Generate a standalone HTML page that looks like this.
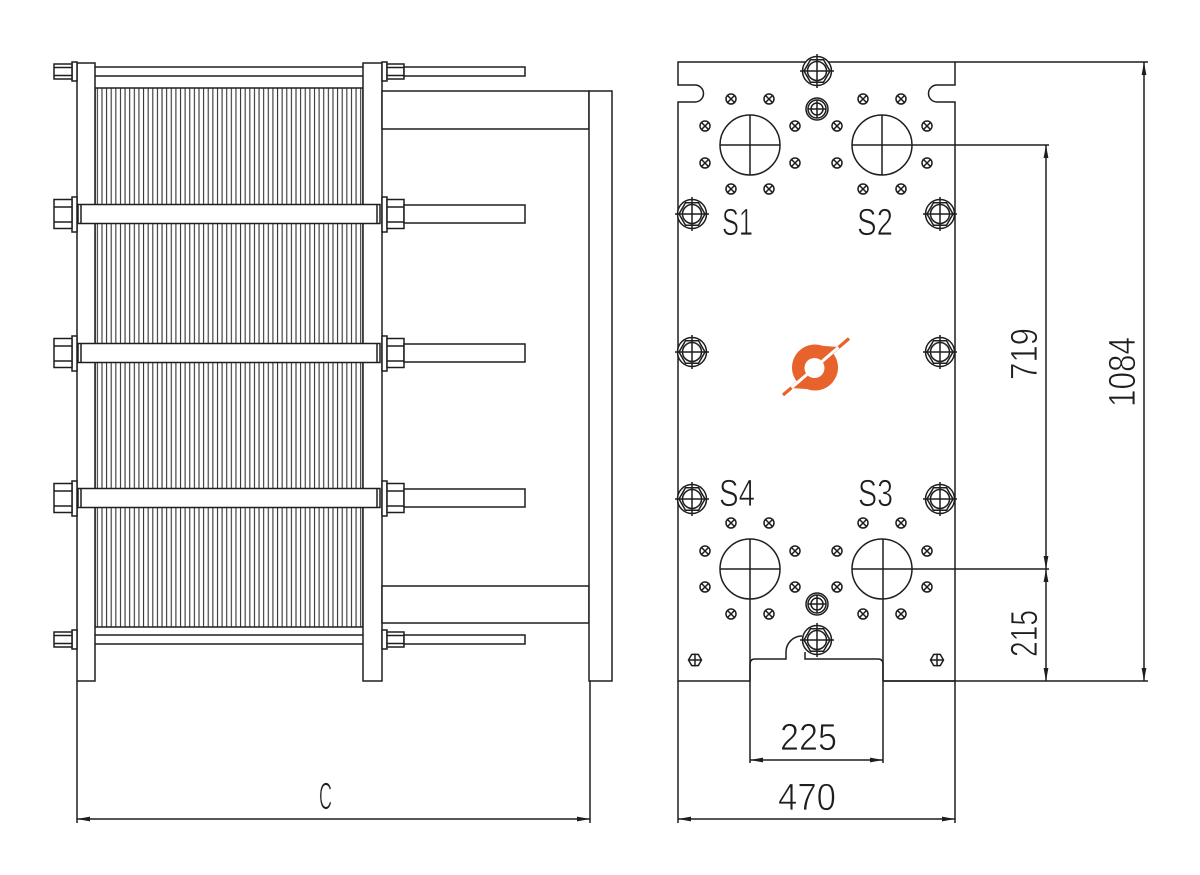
<!DOCTYPE html>
<html>
<head>
<meta charset="utf-8">
<style>
html,body{margin:0;padding:0;background:#fff;}
svg{display:block;}
text{font-family:"Liberation Sans","DejaVu Sans",sans-serif;fill:#1e1e1e;stroke:#fff;stroke-width:0.8;paint-order:normal;}
</style>
</head>
<body>
<svg width="1200" height="875" viewBox="0 0 1200 875" xmlns="http://www.w3.org/2000/svg">
<defs>
  <pattern id="pl" x="95" y="0" width="4.62" height="20" patternUnits="userSpaceOnUse">
    <rect width="4.62" height="20" fill="#fff"/>
    <rect x="1.8" y="0" width="1.1" height="20" fill="#333"/>
  </pattern>
  <g id="bb">
    <circle r="14.5" fill="#fff"/>
    <polygon points="13,0 6.5,11.26 -6.5,11.26 -13,0 -6.5,-11.26 6.5,-11.26" fill="none"/>
    <circle r="9.5" fill="none"/>
    <line x1="-17" y1="0" x2="17" y2="0"/>
    <line x1="0" y1="-17" x2="0" y2="17"/>
  </g>
  <g id="sb">
    <circle r="11" fill="#fff"/>
    <circle r="9" fill="none"/>
    <circle r="6" fill="none"/>
    <line x1="-9" y1="0" x2="9" y2="0"/>
    <line x1="0" y1="-9" x2="0" y2="9"/>
  </g>
  <g id="h">
    <circle r="5" fill="none"/>
    <line x1="-3.5" y1="-3.5" x2="3.5" y2="3.5"/>
    <line x1="-3.5" y1="3.5" x2="3.5" y2="-3.5"/>
  </g>
  <g id="hx">
    <polygon points="6.5,0 3.25,5.63 -3.25,5.63 -6.5,0 -3.25,-5.63 3.25,-5.63" fill="none"/>
    <line x1="-6.5" y1="0" x2="6.5" y2="0"/>
    <line x1="0" y1="-6.5" x2="0" y2="6.5"/>
  </g>
</defs>

<g stroke="#1e1e1e" stroke-width="1.5" fill="none">
  <!-- ============ LEFT VIEW ============ -->
  <rect x="95" y="88" width="268" height="539" fill="url(#pl)" stroke="#1e1e1e"/>
  <line x1="95" y1="67" x2="363" y2="67"/>
  <line x1="95" y1="76" x2="363" y2="76"/>
  <line x1="95" y1="635" x2="363" y2="635"/>
  <line x1="95" y1="644" x2="363" y2="644"/>

  <rect x="77" y="63" width="18" height="618" fill="#fff"/>
  <rect x="363" y="63" width="19" height="618" fill="#fff"/>

  <rect x="382" y="91" width="207" height="38" fill="#fff"/>
  <rect x="382" y="586" width="207" height="37" fill="#fff"/>
  <rect x="589" y="91" width="23" height="590" fill="#fff"/>

  <!-- top guide nuts -->
  <rect x="72" y="62" width="5" height="19" fill="#fff"/>
  <rect x="54" y="64" width="18" height="15" fill="#fff"/>
  <line x1="54" y1="67.5" x2="72" y2="67.5"/>
  <line x1="54" y1="75.5" x2="72" y2="75.5"/>
  <rect x="382" y="62" width="5" height="19" fill="#fff"/>
  <rect x="387" y="64" width="17" height="15" fill="#fff"/>
  <line x1="387" y1="67.5" x2="404" y2="67.5"/>
  <line x1="387" y1="75.5" x2="404" y2="75.5"/>
  <rect x="404" y="67" width="121" height="9" fill="#fff"/>

  <!-- bottom guide nuts -->
  <rect x="72" y="630" width="5" height="19" fill="#fff"/>
  <rect x="54" y="632" width="18" height="15" fill="#fff"/>
  <line x1="54" y1="635.5" x2="72" y2="635.5"/>
  <line x1="54" y1="643.5" x2="72" y2="643.5"/>
  <rect x="382" y="630" width="5" height="19" fill="#fff"/>
  <rect x="387" y="632" width="17" height="15" fill="#fff"/>
  <line x1="387" y1="635.5" x2="404" y2="635.5"/>
  <line x1="387" y1="643.5" x2="404" y2="643.5"/>
  <rect x="404" y="635" width="121" height="9" fill="#fff"/>

  <!-- tie bolts row 1 -->
  <rect x="78" y="204.5" width="302" height="19" fill="#fff"/>
  <line x1="81" y1="204.5" x2="81" y2="223.5"/>
  <line x1="377" y1="204.5" x2="377" y2="223.5"/>
  <rect x="72" y="197" width="5" height="35" fill="#fff"/>
  <rect x="54" y="199.5" width="18" height="29" fill="#fff"/>
  <line x1="54" y1="207" x2="72" y2="207"/>
  <line x1="54" y1="222" x2="72" y2="222"/>
  <rect x="382" y="197" width="5" height="35" fill="#fff"/>
  <rect x="387" y="199.5" width="17" height="29" fill="#fff"/>
  <line x1="387" y1="207" x2="404" y2="207"/>
  <line x1="387" y1="222" x2="404" y2="222"/>
  <rect x="404" y="205" width="121" height="18" fill="#fff"/>

  <!-- tie bolts row 2 -->
  <rect x="78" y="343.5" width="302" height="19" fill="#fff"/>
  <line x1="81" y1="343.5" x2="81" y2="362.5"/>
  <line x1="377" y1="343.5" x2="377" y2="362.5"/>
  <rect x="72" y="336" width="5" height="35" fill="#fff"/>
  <rect x="54" y="338.5" width="18" height="29" fill="#fff"/>
  <line x1="54" y1="346" x2="72" y2="346"/>
  <line x1="54" y1="361" x2="72" y2="361"/>
  <rect x="382" y="336" width="5" height="35" fill="#fff"/>
  <rect x="387" y="338.5" width="17" height="29" fill="#fff"/>
  <line x1="387" y1="346" x2="404" y2="346"/>
  <line x1="387" y1="361" x2="404" y2="361"/>
  <rect x="404" y="344" width="121" height="18" fill="#fff"/>

  <!-- tie bolts row 3 -->
  <rect x="78" y="488.5" width="302" height="19" fill="#fff"/>
  <line x1="81" y1="488.5" x2="81" y2="507.5"/>
  <line x1="377" y1="488.5" x2="377" y2="507.5"/>
  <rect x="72" y="481" width="5" height="35" fill="#fff"/>
  <rect x="54" y="483.5" width="18" height="29" fill="#fff"/>
  <line x1="54" y1="491" x2="72" y2="491"/>
  <line x1="54" y1="506" x2="72" y2="506"/>
  <rect x="382" y="481" width="5" height="35" fill="#fff"/>
  <rect x="387" y="483.5" width="17" height="29" fill="#fff"/>
  <line x1="387" y1="491" x2="404" y2="491"/>
  <line x1="387" y1="506" x2="404" y2="506"/>
  <rect x="404" y="489" width="121" height="18" fill="#fff"/>

  <!-- C dimension -->
  <line x1="77" y1="681" x2="77" y2="823"/>
  <line x1="590" y1="681" x2="590" y2="823"/>
  <line x1="77" y1="819" x2="590" y2="819"/>

  <!-- ============ RIGHT VIEW ============ -->
  <path d="M750,681 L678,681 L678,102 L695,102 A8.5,8.5 0 0 0 695,85 L678,85 L678,62 L955,62 L955,85 L937,85 A8.5,8.5 0 0 0 937,102 L955,102 L955,681 L883,681"/>
  <path d="M750,681 L750,664 Q750,659 755,659 L786,659 L786,652 A16,16 0 0 1 802,636"/>
  <path d="M805,652 L805,659 L878,659 Q883,659 883,664 L883,681"/>

  <line x1="955" y1="62" x2="1148" y2="62"/>
  <line x1="883" y1="681" x2="1148" y2="681"/>
  <line x1="678" y1="681" x2="678" y2="823"/>
  <line x1="955" y1="681" x2="955" y2="823"/>
  <line x1="678" y1="819" x2="955" y2="819"/>

  <!-- ports -->
  <circle cx="750" cy="145" r="30"/>
  <line x1="720" y1="145" x2="780" y2="145"/>
  <line x1="750" y1="115" x2="750" y2="175"/>
  <circle cx="882" cy="145" r="30"/>
  <line x1="852" y1="145" x2="1049" y2="145"/>
  <line x1="882" y1="115" x2="882" y2="175"/>
  <circle cx="750" cy="569" r="30"/>
  <line x1="720" y1="569" x2="780" y2="569"/>
  <line x1="750" y1="539" x2="750" y2="763"/>
  <circle cx="882" cy="569" r="30"/>
  <line x1="852" y1="569" x2="1049" y2="569"/>
  <line x1="883" y1="539" x2="883" y2="763"/>
  <line x1="750" y1="760" x2="883" y2="760"/>

  <line x1="1046" y1="145" x2="1046" y2="681"/>
  <line x1="1144" y1="62" x2="1144" y2="681"/>

  <!-- small holes -->
  <use href="#h" x="731" y="99"/><use href="#h" x="769" y="99"/>
  <use href="#h" x="705" y="126"/><use href="#h" x="795" y="126"/>
  <use href="#h" x="705" y="163"/><use href="#h" x="795" y="163"/>
  <use href="#h" x="731" y="189"/><use href="#h" x="769" y="189"/>
  <use href="#h" x="863" y="99"/><use href="#h" x="901" y="99"/>
  <use href="#h" x="837" y="126"/><use href="#h" x="927" y="126"/>
  <use href="#h" x="837" y="163"/><use href="#h" x="927" y="163"/>
  <use href="#h" x="863" y="189"/><use href="#h" x="901" y="189"/>
  <use href="#h" x="731" y="523"/><use href="#h" x="769" y="523"/>
  <use href="#h" x="705" y="551"/><use href="#h" x="795" y="551"/>
  <use href="#h" x="705" y="587"/><use href="#h" x="795" y="587"/>
  <use href="#h" x="731" y="614"/><use href="#h" x="769" y="614"/>
  <use href="#h" x="863" y="523"/><use href="#h" x="901" y="523"/>
  <use href="#h" x="837" y="551"/><use href="#h" x="927" y="551"/>
  <use href="#h" x="837" y="587"/><use href="#h" x="927" y="587"/>
  <use href="#h" x="863" y="614"/><use href="#h" x="901" y="614"/>

  <!-- bolts -->
  <use href="#bb" x="817" y="71"/>
  <use href="#sb" x="817" y="109"/>
  <use href="#bb" x="692" y="214"/><use href="#bb" x="940" y="214"/>
  <use href="#bb" x="692" y="352"/><use href="#bb" x="940" y="352"/>
  <use href="#bb" x="692" y="499"/><use href="#bb" x="940" y="499"/>
  <use href="#sb" x="817" y="604"/>
  <use href="#bb" x="817" y="640"/>
  <use href="#hx" x="695" y="660"/>
  <use href="#hx" x="937" y="660"/>
</g>

<!-- arrowheads -->
<g fill="#1e1e1e" stroke="none">
  <polygon points="77,819 90,816.6 90,821.4"/>
  <polygon points="590,819 577,816.6 577,821.4"/>
  <polygon points="678,819 691,816.6 691,821.4"/>
  <polygon points="955,819 942,816.6 942,821.4"/>
  <polygon points="750,760 763,757.6 763,762.4"/>
  <polygon points="883,760 870,757.6 870,762.4"/>
  <polygon points="1144,62 1141.6,75 1146.4,75"/>
  <polygon points="1144,681 1141.6,668 1146.4,668"/>
  <polygon points="1046,145 1043.6,158 1048.4,158"/>
  <polygon points="1046,569 1043.6,556 1048.4,556"/>
  <polygon points="1046,569 1043.6,582 1048.4,582"/>
  <polygon points="1046,681 1043.6,668 1048.4,668"/>
</g>

<!-- logo -->
<g>
  <line x1="783" y1="395" x2="849" y2="338.5" stroke="#E8632B" stroke-width="3.2"/>
  <circle cx="815" cy="367.5" r="23" fill="#E8632B"/>
  <polygon points="822.9,345.9 839,347 832.4,352.5" fill="#E8632B"/>
  <polygon points="807.1,389.1 791,388 797.6,382.5" fill="#E8632B"/>
  <line x1="791.5" y1="387.7" x2="838.5" y2="347.3" stroke="#fff" stroke-width="3"/>
  <circle cx="814.5" cy="368" r="10" fill="#fff"/>
</g>

<!-- text -->
<g font-size="38">
  <text x="722" y="235" textLength="31" lengthAdjust="spacingAndGlyphs">S1</text>
  <text x="857" y="235" textLength="36" lengthAdjust="spacingAndGlyphs">S2</text>
  <text x="719" y="506" textLength="36" lengthAdjust="spacingAndGlyphs">S4</text>
  <text x="858" y="506" textLength="35" lengthAdjust="spacingAndGlyphs">S3</text>
  <text x="780" y="750" textLength="57" lengthAdjust="spacingAndGlyphs">225</text>
  <text x="778" y="810" textLength="58" lengthAdjust="spacingAndGlyphs">470</text>
  <text x="319" y="809" textLength="13" lengthAdjust="spacingAndGlyphs">C</text>
  <text transform="translate(1037,380) rotate(-90)" x="0" y="0" textLength="52" lengthAdjust="spacingAndGlyphs">719</text>
  <text transform="translate(1135,407) rotate(-90)" x="0" y="0" textLength="70" lengthAdjust="spacingAndGlyphs">1084</text>
  <text transform="translate(1037,657) rotate(-90)" x="0" y="0" textLength="47" lengthAdjust="spacingAndGlyphs">215</text>
</g>
</svg>
</body>
</html>
